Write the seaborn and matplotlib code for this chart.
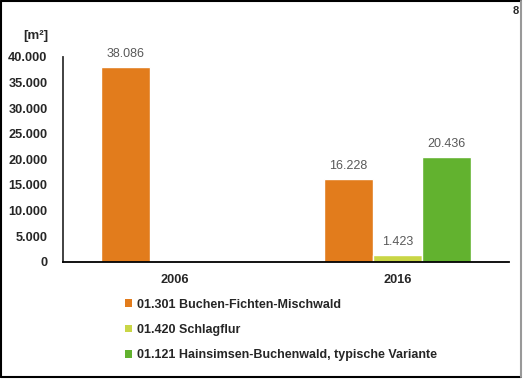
import seaborn as sns
import matplotlib.pyplot as plt
import pandas as pd
import numpy as np
from matplotlib.patches import Patch
from matplotlib.lines import Line2D

years = ["2006", "2016"]
types = ["01.301 Buchen-Fichten-Mischwald",
         "01.420 Schlagflur",
         "01.121 Hainsimsen-Buchenwald, typische Variante"]
area_2006 = [38086, np.nan, np.nan]
area_2016 = [16228, 1423, 20436]
colors = ["#E27C1C", "#C9D646", "#62B22F"]

rows = []
for t, a, b in zip(types, area_2006, area_2016):
    rows.append([years[0], t, a])
    rows.append([years[1], t, b])
df = pd.DataFrame(rows, columns=["Jahr", "Typ", "Flaeche"])

sns.set_style("white")
plt.rcParams['font.family'] = ['Liberation Sans', 'DejaVu Sans']

fig = plt.figure(figsize=(5.28, 3.84), dpi=100)
ax = fig.add_axes([0.119, 0.318, 0.845, 0.534])

sns.barplot(data=df, x="Jahr", y="Flaeche", hue="Typ", hue_order=types,
            palette=colors, width=0.66, saturation=1, legend=False, ax=ax,
            errorbar=None)

for cont in ax.containers:
    labs = []
    for bar in cont:
        h = bar.get_height()
        labs.append("" if np.isnan(h) or h == 0 else f"{h:,.0f}".replace(",", "."))
    ax.bar_label(cont, labels=labs, padding=5, fontsize=9, color="#595959")

ax.set_xlim(-0.5, 1.5)
ax.set_ylim(0, 40000)
ax.set_yticks(np.arange(0, 40001, 5000))
ax.set_yticklabels([f"{v:,.0f}".replace(",", ".") for v in np.arange(0, 40001, 5000)],
                   fontweight="bold", fontsize=9.2)
ax.set_xticks([0, 1])
ax.set_xticklabels(years, fontweight="bold", fontsize=9.2)
ax.set_xticks([-0.5, 0.5, 1.5], minor=True)
ax.tick_params(axis="x", which="major", length=0, pad=9)
ax.tick_params(axis="x", which="minor", length=5, width=1.3, color="black", direction="out")
ax.tick_params(axis="y", length=4, width=1.3, color="#333333", direction="out", pad=7)
ax.set_xlabel("")
ax.set_ylabel("")
for s in ["top", "right"]:
    ax.spines[s].set_visible(False)
ax.spines["left"].set_color("#333333")
ax.spines["left"].set_linewidth(1.3)
ax.spines["bottom"].set_color("black")
ax.spines["bottom"].set_linewidth(1.3)

fig.text(0.068, 0.905, "[m²]", fontweight="bold", fontsize=9.5, ha="center", va="center")
fig.text(0.977, 0.972, "8", fontweight="bold", fontsize=8, ha="center", va="center")

handles = [Patch(facecolor=c, edgecolor="none") for c in colors]
fig.legend(handles, types, loc="upper left", bbox_to_anchor=(0.236, 0.222),
           frameon=False, prop={"weight": "bold", "size": 9},
           handlelength=0.6, handleheight=0.6, handletextpad=0.4,
           labelspacing=1.05, borderaxespad=0, borderpad=0)

fig.add_artist(Line2D([0.002, 0.002], [0.018, 0.998], transform=fig.transFigure, color="black", lw=1.5))
fig.add_artist(Line2D([0.002, 0.987], [0.998, 0.998], transform=fig.transFigure, color="black", lw=1.5))
fig.add_artist(Line2D([0.002, 0.987], [0.018, 0.018], transform=fig.transFigure, color="black", lw=1.5))
fig.add_artist(Line2D([0.987, 0.987], [0.018, 0.998], transform=fig.transFigure, color="#999999", lw=1.5))

fig.savefig("out.png", dpi=100)
